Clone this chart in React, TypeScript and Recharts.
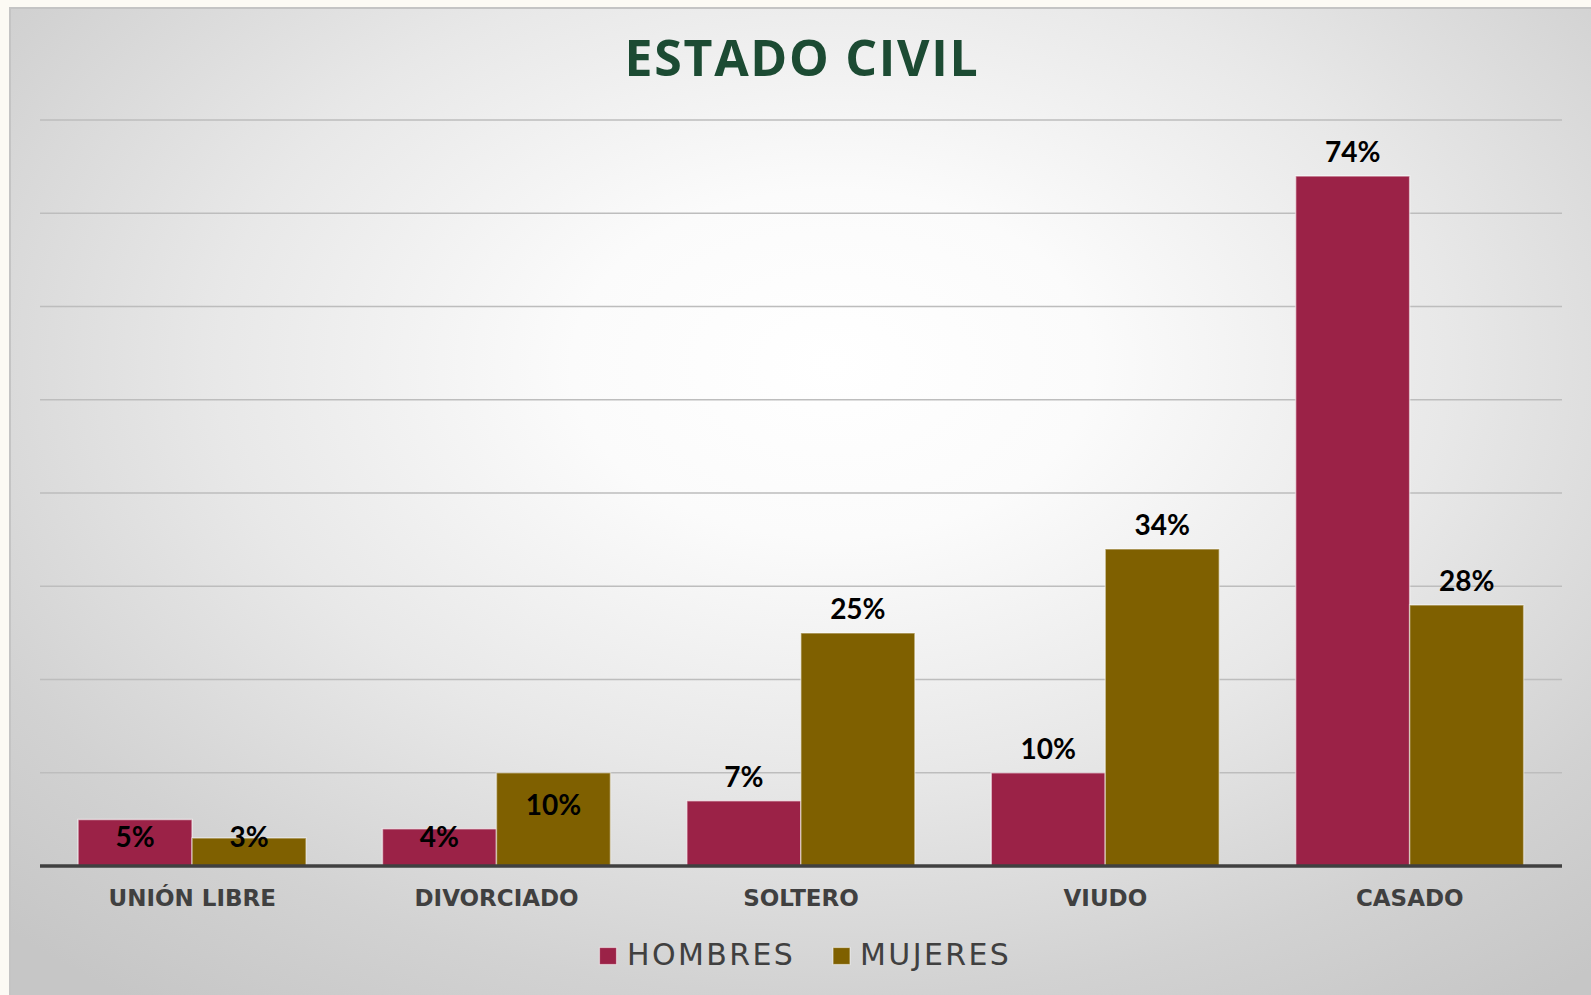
import React from 'react';
import { BarChart, Bar, XAxis, YAxis, CartesianGrid, LabelList } from 'recharts';

// Estado civil, % by sex
const categories = ['UNIÓN LIBRE', 'DIVORCIADO', 'SOLTERO', 'VIUDO', 'CASADO'];
const hombres = [5, 4, 7, 10, 74];
const mujeres = [3, 10, 25, 34, 28];
const yTicks = [0, 10, 20, 30, 40, 50, 60, 70, 80];
const seriesNames = ['HOMBRES', 'MUJERES'];

// which data labels sit inside the bar end (as in the original)
const hombresInside = [true, true, false, false, false];
const mujeresInside = [true, true, false, false, false];

const data = categories.map((name, i) => ({
  name,
  hombres: hombres[i],
  mujeres: mujeres[i],
}));

const COLOR_H = '#9b2247';
const COLOR_M = '#7f6000';

const makeLabel = (inside: boolean[]) => (props: any) => {
  const { x, y, width, height, value, index } = props;
  const cx = Number(x) + Number(width) / 2;
  const top = Number(y);
  const bottom = top + Number(height);
  let ty: number;
  if (inside[index]) {
    const center = Math.min(top + 32, bottom - 29);
    ty = center + 10;
  } else {
    ty = top - 14;
  }
  return (
    <text
      x={cx}
      y={ty}
      textAnchor="middle"
      fill="#000"
      fontFamily="Lato, 'Open Sans', sans-serif"
      fontWeight={700}
      fontSize={28}
    >
      {value}%
    </text>
  );
};

const CategoryTick = (props: any) => {
  const { x, y, payload } = props;
  return (
    <text
      x={x}
      y={y + 40}
      textAnchor="middle"
      fill="#404040"
      fontFamily="'DejaVu Sans', sans-serif"
      fontWeight={700}
      fontSize={23}
    >
      {payload.value}
    </text>
  );
};

export default function App() {
  return (
    <div style={{ position: 'absolute', left: 0, top: 0, width: 1591, height: 995, background: '#fcfaf4', overflow: 'hidden' }}>
      <div
        style={{
          position: 'absolute',
          left: 9,
          top: 7,
          width: 1582,
          height: 988,
          boxSizing: 'border-box',
          borderTop: '2px solid #c4c4c4',
          borderLeft: '2px solid #c4c4c4',
          background:
            'radial-gradient(ellipse 75% 80% at 52% 36%, #ffffff 0%, #fbfbfb 22%, #e8e8e8 52%, #d2d2d2 80%, #c6c6c6 100%)',
        }}
      />
      <div style={{ position: 'absolute', left: 0, top: 0 }}>
        <BarChart
          width={1591}
          height={995}
          data={data}
          margin={{ top: 120, right: 29, bottom: 99, left: 40 }}
          barCategoryGap="12.5%"
          barGap={0}
        >
          <CartesianGrid vertical={false} stroke="#bdbdbd" strokeWidth={1.3} />
          <YAxis hide domain={[0, 80]} ticks={yTicks} />
          <XAxis
            dataKey="name"
            height={30}
            axisLine={{ stroke: '#404040', strokeWidth: 3.5 }}
            tickLine={false}
            tickSize={0}
            tickMargin={0}
            tick={<CategoryTick />}
            interval={0}
          />
          <Bar dataKey="hombres" fill={COLOR_H} stroke="rgba(255,255,255,0.55)" strokeWidth={1.5} isAnimationActive={false}>
            <LabelList dataKey="hombres" content={makeLabel(hombresInside)} />
          </Bar>
          <Bar dataKey="mujeres" fill={COLOR_M} stroke="rgba(255,255,255,0.45)" strokeWidth={1.5} isAnimationActive={false}>
            <LabelList dataKey="mujeres" content={makeLabel(mujeresInside)} />
          </Bar>
        </BarChart>
      </div>
      <svg width={1591} height={995} style={{ position: 'absolute', left: 0, top: 0, pointerEvents: 'none' }}>
        <text
          x={802}
          y={76}
          textAnchor="middle"
          fill="#1c4b33"
          fontFamily="'Open Sans', sans-serif"
          fontWeight={700}
          fontSize={50}
          letterSpacing={1.7}
        >
          ESTADO CIVIL
        </text>
        <rect x={599.5} y={947.5} width={17} height={17} fill={COLOR_H} stroke="rgba(255,255,255,0.5)" strokeWidth={1.2} />
        <text x={627} y={965} fill="#404040" fontFamily="'DejaVu Sans', sans-serif" fontSize={30} letterSpacing={2.4}>
          {seriesNames[0]}
        </text>
        <rect x={833} y={947.5} width={17} height={17} fill={COLOR_M} stroke="rgba(255,255,255,0.5)" strokeWidth={1.2} />
        <text x={860} y={965} fill="#404040" fontFamily="'DejaVu Sans', sans-serif" fontSize={30} letterSpacing={2.4}>
          {seriesNames[1]}
        </text>
      </svg>
    </div>
  );
}
